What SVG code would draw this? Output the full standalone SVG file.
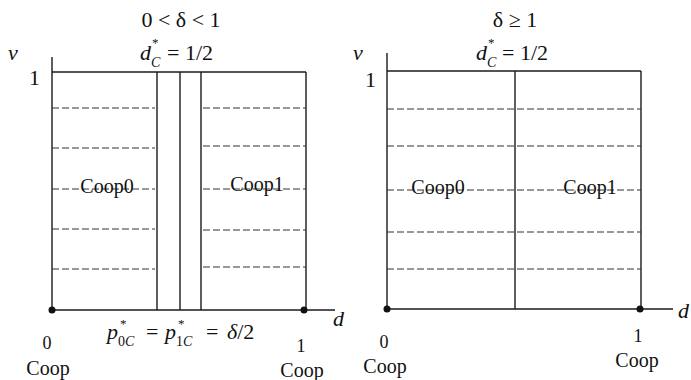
<svg xmlns="http://www.w3.org/2000/svg" width="691" height="380" viewBox="0 0 691 380">
<style>
.ln{stroke:#1a1a1a;stroke-width:1.4;fill:none}
.ds{stroke:#333;stroke-width:1.1;stroke-dasharray:7 3;fill:none}
.t{font-family:"Liberation Serif",serif;fill:#111}
.m{font-family:"Liberation Serif",serif;fill:#111;font-size:22px}
.i{font-style:italic}
.c{font-size:20px}
.n{font-size:18px}
.sup{font-family:"Liberation Serif",serif;fill:#111;font-size:13px}
.sub{font-family:"Liberation Serif",serif;fill:#111;font-size:14px}
</style>
<rect width="691" height="380" fill="#fff"/>
<g id="left-panel">
  <text class="m" x="181" y="27" text-anchor="middle">0 &lt; δ &lt; 1</text>
  <text class="m i" x="140" y="60">d</text>
  <text class="sup" x="152" y="47">*</text>
  <text class="sub i" x="151" y="67">C</text>
  <text class="m" x="167" y="60">= 1/2</text>
  <text class="m i" x="8" y="60">v</text>
  <text class="m" x="29" y="85">1</text>
  <line class="ln" x1="52" y1="57" x2="52" y2="310"/>
  <line class="ln" x1="52" y1="310" x2="335" y2="310"/>
  <line class="ln" x1="52" y1="72" x2="306" y2="72"/>
  <line class="ln" x1="306" y1="72" x2="306" y2="310"/>
  <line class="ln" x1="157" y1="72" x2="157" y2="310"/>
  <line class="ln" x1="180" y1="72" x2="180" y2="310"/>
  <line class="ln" x1="201" y1="72" x2="201" y2="310"/>
  <g>
    <line class="ds" x1="52" y1="108" x2="155" y2="108"/>
    <line class="ds" x1="52" y1="148" x2="155" y2="148"/>
    <line class="ds" x1="52" y1="189" x2="155" y2="189"/>
    <line class="ds" x1="52" y1="229" x2="155" y2="229"/>
    <line class="ds" x1="52" y1="269" x2="155" y2="269"/>
    <line class="ds" x1="203" y1="108" x2="306" y2="108"/>
    <line class="ds" x1="203" y1="146" x2="306" y2="146"/>
    <line class="ds" x1="203" y1="189" x2="306" y2="189"/>
    <line class="ds" x1="203" y1="230" x2="306" y2="230"/>
    <line class="ds" x1="203" y1="267" x2="306" y2="267"/>
  </g>
  <text class="t c" x="107" y="193" text-anchor="middle">Coop0</text>
  <text class="t c" x="257" y="191" text-anchor="middle">Coop1</text>
  <circle cx="52" cy="310" r="3.5" fill="#111"/>
  <circle cx="304" cy="310" r="3.5" fill="#111"/>
  <text class="m i" x="333" y="326">d</text>
  <text class="m i" x="107" y="339">p</text>
  <text class="sup" x="120" y="328">*</text>
  <text class="sub" x="118" y="346">0<tspan class="i">C</tspan></text>
  <text class="m" x="146" y="339">=</text>
  <text class="m i" x="165" y="339">p</text>
  <text class="sup" x="178" y="328">*</text>
  <text class="sub" x="176" y="346">1<tspan class="i">C</tspan></text>
  <text class="m" x="206" y="339">=</text>
  <text class="m" x="227" y="339"><tspan class="i">δ</tspan>/2</text>
  <text class="t n" x="47" y="349" text-anchor="middle">0</text>
  <text class="t c" x="48" y="375" text-anchor="middle">Coop</text>
  <text class="t n" x="301" y="352" text-anchor="middle">1</text>
  <text class="t c" x="302" y="377" text-anchor="middle">Coop</text>
</g>
<g id="right-panel">
  <text class="m" x="515" y="27" text-anchor="middle">δ ≥ 1</text>
  <text class="m i" x="476" y="60">d</text>
  <text class="sup" x="488" y="47">*</text>
  <text class="sub i" x="487" y="67">C</text>
  <text class="m" x="502" y="60">= 1/2</text>
  <text class="m i" x="353" y="60">v</text>
  <text class="m" x="365" y="87">1</text>
  <line class="ln" x1="387" y1="53" x2="387" y2="309"/>
  <line class="ln" x1="387" y1="309" x2="673" y2="309"/>
  <line class="ln" x1="387" y1="71" x2="641" y2="71"/>
  <line class="ln" x1="641" y1="71" x2="641" y2="309"/>
  <line class="ln" x1="515" y1="71" x2="515" y2="309"/>
  <g>
    <line class="ds" x1="387" y1="109" x2="641" y2="109"/>
    <line class="ds" x1="387" y1="146" x2="641" y2="146"/>
    <line class="ds" x1="387" y1="190" x2="641" y2="190"/>
    <line class="ds" x1="387" y1="232" x2="641" y2="232"/>
    <line class="ds" x1="387" y1="269" x2="641" y2="269"/>
  </g>
  <text class="t c" x="438" y="194" text-anchor="middle">Coop0</text>
  <text class="t c" x="590" y="194" text-anchor="middle">Coop1</text>
  <circle cx="387" cy="309" r="3.5" fill="#111"/>
  <circle cx="640" cy="309" r="3.5" fill="#111"/>
  <text class="m i" x="678" y="318">d</text>
  <text class="t n" x="384" y="348" text-anchor="middle">0</text>
  <text class="t c" x="385" y="373" text-anchor="middle">Coop</text>
  <text class="t n" x="638" y="342" text-anchor="middle">1</text>
  <text class="t c" x="637" y="367" text-anchor="middle">Coop</text>
</g>
</svg>
